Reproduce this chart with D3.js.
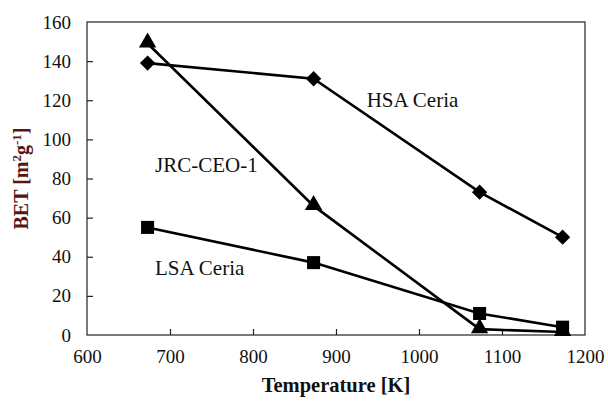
<html><head><meta charset="utf-8">
<script src="https://cdn.jsdelivr.net/npm/d3@7"></script>
</head><body style="margin:0">
<svg id="c" width="608" height="401" style="display:block;background:#fff"></svg>
<script>
const temps = [673, 873, 1073, 1173];
const hsaCeria = [139, 131, 73, 50];
const jrcCeo1 = [149, 66, 3, 1.5];
const lsaCeria = [55, 37, 11, 4];
const xTicks = [600, 700, 800, 900, 1000, 1100, 1200];
const yTicks = [0, 20, 40, 60, 80, 100, 120, 140, 160];
const SERIF = "'Liberation Serif', 'Times New Roman', serif";

const svg = d3.select("#c");
const L = 87, R = 585, T = 22, B = 335;
const x = d3.scaleLinear().domain([600, 1200]).range([L, R]);
const y = d3.scaleLinear().domain([0, 160]).range([B, T]);

svg.append("rect").attr("x", L).attr("y", T).attr("width", R - L).attr("height", B - T)
  .attr("fill", "none").attr("stroke", "#222").attr("stroke-width", 1.2);

const xAxis = svg.append("g").attr("transform", `translate(0,${B})`)
  .call(d3.axisBottom(x).tickValues(xTicks).tickSize(-6).tickPadding(15).tickFormat(d3.format("d")));
const yAxis = svg.append("g").attr("transform", `translate(${L},0)`)
  .call(d3.axisLeft(y).tickValues(yTicks).tickSize(-6).tickPadding(16).tickFormat(d3.format("d")));
[xAxis, yAxis].forEach(g => {
  g.attr("font-family", SERIF).attr("font-size", 19);
  g.select(".domain").remove();
  g.selectAll(".tick line").attr("stroke", "#222").attr("stroke-width", 1.2)
    .filter((d, i, n) => i === 0 || i === n.length - 1).remove();
  g.selectAll("text").attr("font-size", 19).attr("fill", "#111").attr("font-family", SERIF);
});

const line = d3.line().x(d => x(d[0])).y(d => y(d[1]));
const series = [
  {vals: hsaCeria, sym: d3.symbolDiamond2, size: 150},
  {vals: jrcCeo1, sym: d3.symbolTriangle, size: 130},
  {vals: lsaCeria, sym: d3.symbolSquare, size: 170}
];
series.forEach(s => {
  const pts = temps.map((t, i) => [t, s.vals[i]]);
  svg.append("path").datum(pts).attr("d", line).attr("fill", "none")
    .attr("stroke", "#000").attr("stroke-width", 2.6);
  svg.selectAll(null).data(pts).enter().append("path")
    .attr("d", d3.symbol().type(s.sym).size(s.size))
    .attr("transform", d => `translate(${x(d[0])},${y(d[1]) + (s.sym === d3.symbolTriangle ? -1 : 0)})`)
    .attr("fill", "#000");
});

const labels = [
  {text: "HSA Ceria", t: 937, v: 116.5},
  {text: "JRC-CEO-1", t: 682, v: 83.3},
  {text: "LSA Ceria", t: 682, v: 30.7}
];
svg.selectAll(null).data(labels).enter().append("text")
  .attr("x", d => x(d.t)).attr("y", d => y(d.v)).attr("font-size", 21).attr("font-family", SERIF)
  .attr("fill", "#111").text(d => d.text);

svg.append("text").attr("x", (L + R) / 2).attr("y", 392).attr("text-anchor", "middle")
  .attr("font-size", 20.5).attr("font-family", SERIF).attr("font-weight", "bold").attr("fill", "#111").text("Temperature [K]");

const yt = svg.append("text").attr("transform", `translate(28,${(T + B) / 2}) rotate(-90)`)
  .attr("text-anchor", "middle").attr("font-size", 20).attr("font-family", SERIF)
  .attr("font-weight", "bold").attr("fill", "#5a1414");
yt.append("tspan").text("BET [m");
yt.append("tspan").attr("font-size", 13).attr("dy", -7).text("2");
yt.append("tspan").attr("dy", 7).text("g");
yt.append("tspan").attr("font-size", 13).attr("dy", -7).text("-1");
yt.append("tspan").attr("dy", 7).text("]");
</script></body></html>
